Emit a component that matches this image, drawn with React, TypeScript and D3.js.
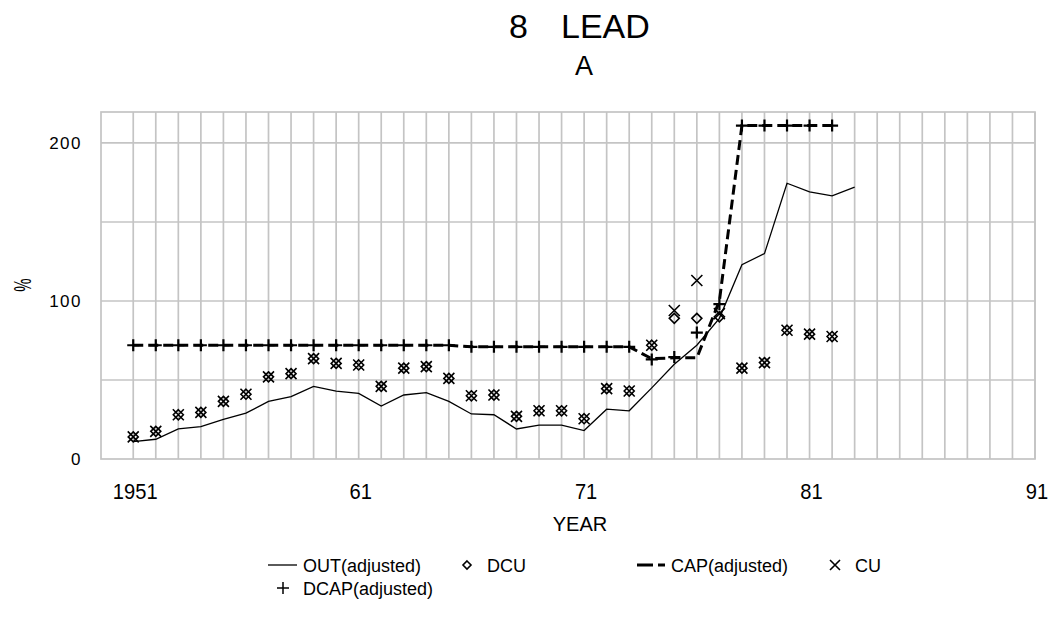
import React from "react";
import * as d3 from "d3";

// Series for 1951–1983 (values in %)
const years = [
  1951, 1952, 1953, 1954, 1955, 1956, 1957, 1958, 1959, 1960, 1961, 1962, 1963,
  1964, 1965, 1966, 1967, 1968, 1969, 1970, 1971, 1972, 1973, 1974, 1975, 1976,
  1977, 1978, 1979, 1980, 1981, 1982, 1983,
];
const outAdjusted = [
  11, 12.5, 19, 20.5, 25, 29, 36.5, 39.5, 46, 43, 41.5, 33.5, 40.5, 42, 36.5,
  28.5, 28, 19, 21.5, 21.5, 18, 31.5, 30.5, 45, 60, 72, 89, 123, 130, 174.5,
  169, 166.5, 172,
];
const dcu = [
  14, 17.5, 28, 29.5, 36.5, 41, 52, 54, 63.5, 60.5, 59.5, 46, 57.5, 58.5, 51,
  40, 40.5, 27, 30.5, 30.5, 25.5, 44.5, 43, 72, 89, 89, 90, 57.5, 61, 81.5, 79,
  77.5,
];
const cu = [
  14, 17.5, 28, 29.5, 36.5, 41, 52, 54, 63.5, 60.5, 59.5, 46, 57.5, 58.5, 51,
  40, 40.5, 27, 30.5, 30.5, 25.5, 44.5, 43, 72, 94, 113, 92, 57.5, 61, 81.5, 79,
  77.5,
];
const capAdjusted = [
  72, 72, 72, 72, 72, 72, 72, 72, 72, 72, 72, 72, 72, 72, 72, 71, 71, 71, 71,
  71, 71, 71, 71, 63.5, 64, 64, 100, 211, 211, 211, 211, 211,
];
const dcapAdjusted = [
  72, 72, 72, 72, 72, 72, 72, 72, 72, 72, 72, 72, 72, 72, 72, 71, 71, 71, 71,
  71, 71, 71, 71, 63, 64.5, 80, 98, 211, 211, 211, 211, 211,
];

const gridYears = d3.range(1951, 1992);
const yGridValues = [50, 100, 150, 200];
const yTickValues = [0, 100, 200];
const xTickYears = [1951, 1961, 1971, 1981, 1991];
const xTickLabels = ["1951", "61", "71", "81", "91"];

const W = 1061;
const H = 620;
const plot = { left: 101, right: 1035, top: 112, bottom: 459 };

const x = d3.scaleLinear().domain([1949.57, 1991]).range([plot.left, plot.right]);
const y = d3.scaleLinear().domain([0, 219.6]).range([plot.bottom, plot.top]);

const FONT = "'Liberation Sans', Arial, sans-serif";
const GRID = "#c4c4c4";

type Pt = [number, number];

const toPts = (vals: number[]): Pt[] => vals.map((v, i) => [years[i], v]);

const lineGen = d3
  .line<Pt>()
  .x((d) => x(d[0]))
  .y((d) => y(d[1]));

function Plus({ cx, cy, s = 6, w = 2.2 }: { cx: number; cy: number; s?: number; w?: number }) {
  return (
    <path
      d={`M${cx - s},${cy}H${cx + s}M${cx},${cy - s}V${cy + s}`}
      stroke="#000"
      strokeWidth={w}
      fill="none"
    />
  );
}

function Cross({ cx, cy, s = 5.5 }: { cx: number; cy: number; s?: number }) {
  return (
    <path
      d={`M${cx - s},${cy - s}L${cx + s},${cy + s}M${cx - s},${cy + s}L${cx + s},${cy - s}`}
      stroke="#000"
      strokeWidth={1.6}
      fill="none"
    />
  );
}

function Diamond({ cx, cy, s = 5 }: { cx: number; cy: number; s?: number }) {
  return (
    <path
      d={`M${cx},${cy - s}L${cx + s},${cy}L${cx},${cy + s}L${cx - s},${cy}Z`}
      stroke="#000"
      strokeWidth={1.6}
      fill="none"
    />
  );
}

// legend entries share one column pitch
const legendX0 = 283;
const legendPitch = 184;

export default function App() {
  const outPts = toPts(outAdjusted);
  const capPts = toPts(capAdjusted);
  const lx = (i: number) => legendX0 + i * legendPitch;

  return (
    <svg
      width={W}
      height={H}
      viewBox={`0 0 ${W} ${H}`}
      style={{ position: "absolute", left: 0, top: 0, background: "#fff" }}
      fontFamily={FONT}
    >
      <rect x={0} y={0} width={W} height={H} fill="#fff" />

      {/* Title */}
      <text x={509} y={38} fontSize={34} fill="#000">8</text>
      <text x={561} y={38} fontSize={34} fill="#000">LEAD</text>
      <text x={584} y={75} fontSize={27} textAnchor="middle" fill="#000">A</text>

      {/* Grid */}
      <g stroke={GRID} strokeWidth={1.7} fill="none">
        {gridYears.map((yr) => (
          <line key={`vx${yr}`} x1={x(yr)} x2={x(yr)} y1={plot.top} y2={plot.bottom} />
        ))}
        {yGridValues.map((v) => (
          <line key={`hy${v}`} x1={plot.left} x2={plot.right} y1={y(v)} y2={y(v)} />
        ))}
        <rect
          x={plot.left}
          y={plot.top}
          width={plot.right - plot.left}
          height={plot.bottom - plot.top}
        />
      </g>

      {/* Y axis */}
      {yTickValues.map((v) => (
        <text
          key={`yt${v}`}
          x={82}
          y={y(v) + 6}
          fontSize={17}
          textAnchor="end"
          letterSpacing={1.5}
          fill="#000"
        >
          {v}
        </text>
      ))}
      <text
        x={0}
        y={0}
        fontSize={24}
        textAnchor="middle"
        dominantBaseline="central"
        fill="#000"
        transform={`translate(22,285) rotate(90) scale(0.62,1)`}
      >
        %
      </text>

      {/* X axis */}
      {xTickYears.map((yr, i) => (
        <text
          key={`xt${yr}`}
          x={x(yr) + 2}
          y={499}
          fontSize={22}
          textAnchor="middle"
          fill="#000"
          textLength={xTickLabels[i].length * 11.2}
          lengthAdjust="spacingAndGlyphs"
        >
          {xTickLabels[i]}
        </text>
      ))}
      <text x={580} y={531} fontSize={20} textAnchor="middle" fill="#000">
        YEAR
      </text>

      {/* OUT(adjusted) */}
      <path d={lineGen(outPts) ?? ""} fill="none" stroke="#000" strokeWidth={1.3} />

      {/* DCU */}
      {dcu.map((v, i) => (
        <Diamond key={`dcu${i}`} cx={x(years[i])} cy={y(v)} />
      ))}

      {/* CAP(adjusted) */}
      <path
        d={lineGen(capPts) ?? ""}
        fill="none"
        stroke="#000"
        strokeWidth={3}
        strokeDasharray="10 5"
      />

      {/* CU */}
      {cu.map((v, i) => (
        <Cross key={`cu${i}`} cx={x(years[i])} cy={y(v)} />
      ))}

      {/* DCAP(adjusted) */}
      {dcapAdjusted.map((v, i) => (
        <Plus key={`dcap${i}`} cx={x(years[i])} cy={y(v)} />
      ))}

      {/* Legend */}
      <g fontSize={18} fill="#000">
        <line x1={lx(0) - 15} x2={lx(0) + 14} y1={565} y2={565} stroke="#000" strokeWidth={1.3} />
        <text x={lx(0) + 20} y={572}>OUT(adjusted)</text>
        <Diamond cx={lx(1)} cy={565} s={4} />
        <text x={lx(1) + 20} y={572}>DCU</text>
        <line x1={lx(2) - 14} x2={lx(2) + 2} y1={565} y2={565} stroke="#000" strokeWidth={3} />
        <line x1={lx(2) + 7} x2={lx(2) + 14} y1={565} y2={565} stroke="#000" strokeWidth={3} />
        <text x={lx(2) + 20} y={572}>CAP(adjusted)</text>
        <Cross cx={lx(3)} cy={565} s={5} />
        <text x={lx(3) + 20} y={572}>CU</text>
        <Plus cx={lx(0)} cy={588} s={6} w={1.5} />
        <text x={lx(0) + 20} y={595}>DCAP(adjusted)</text>
      </g>
    </svg>
  );
}
